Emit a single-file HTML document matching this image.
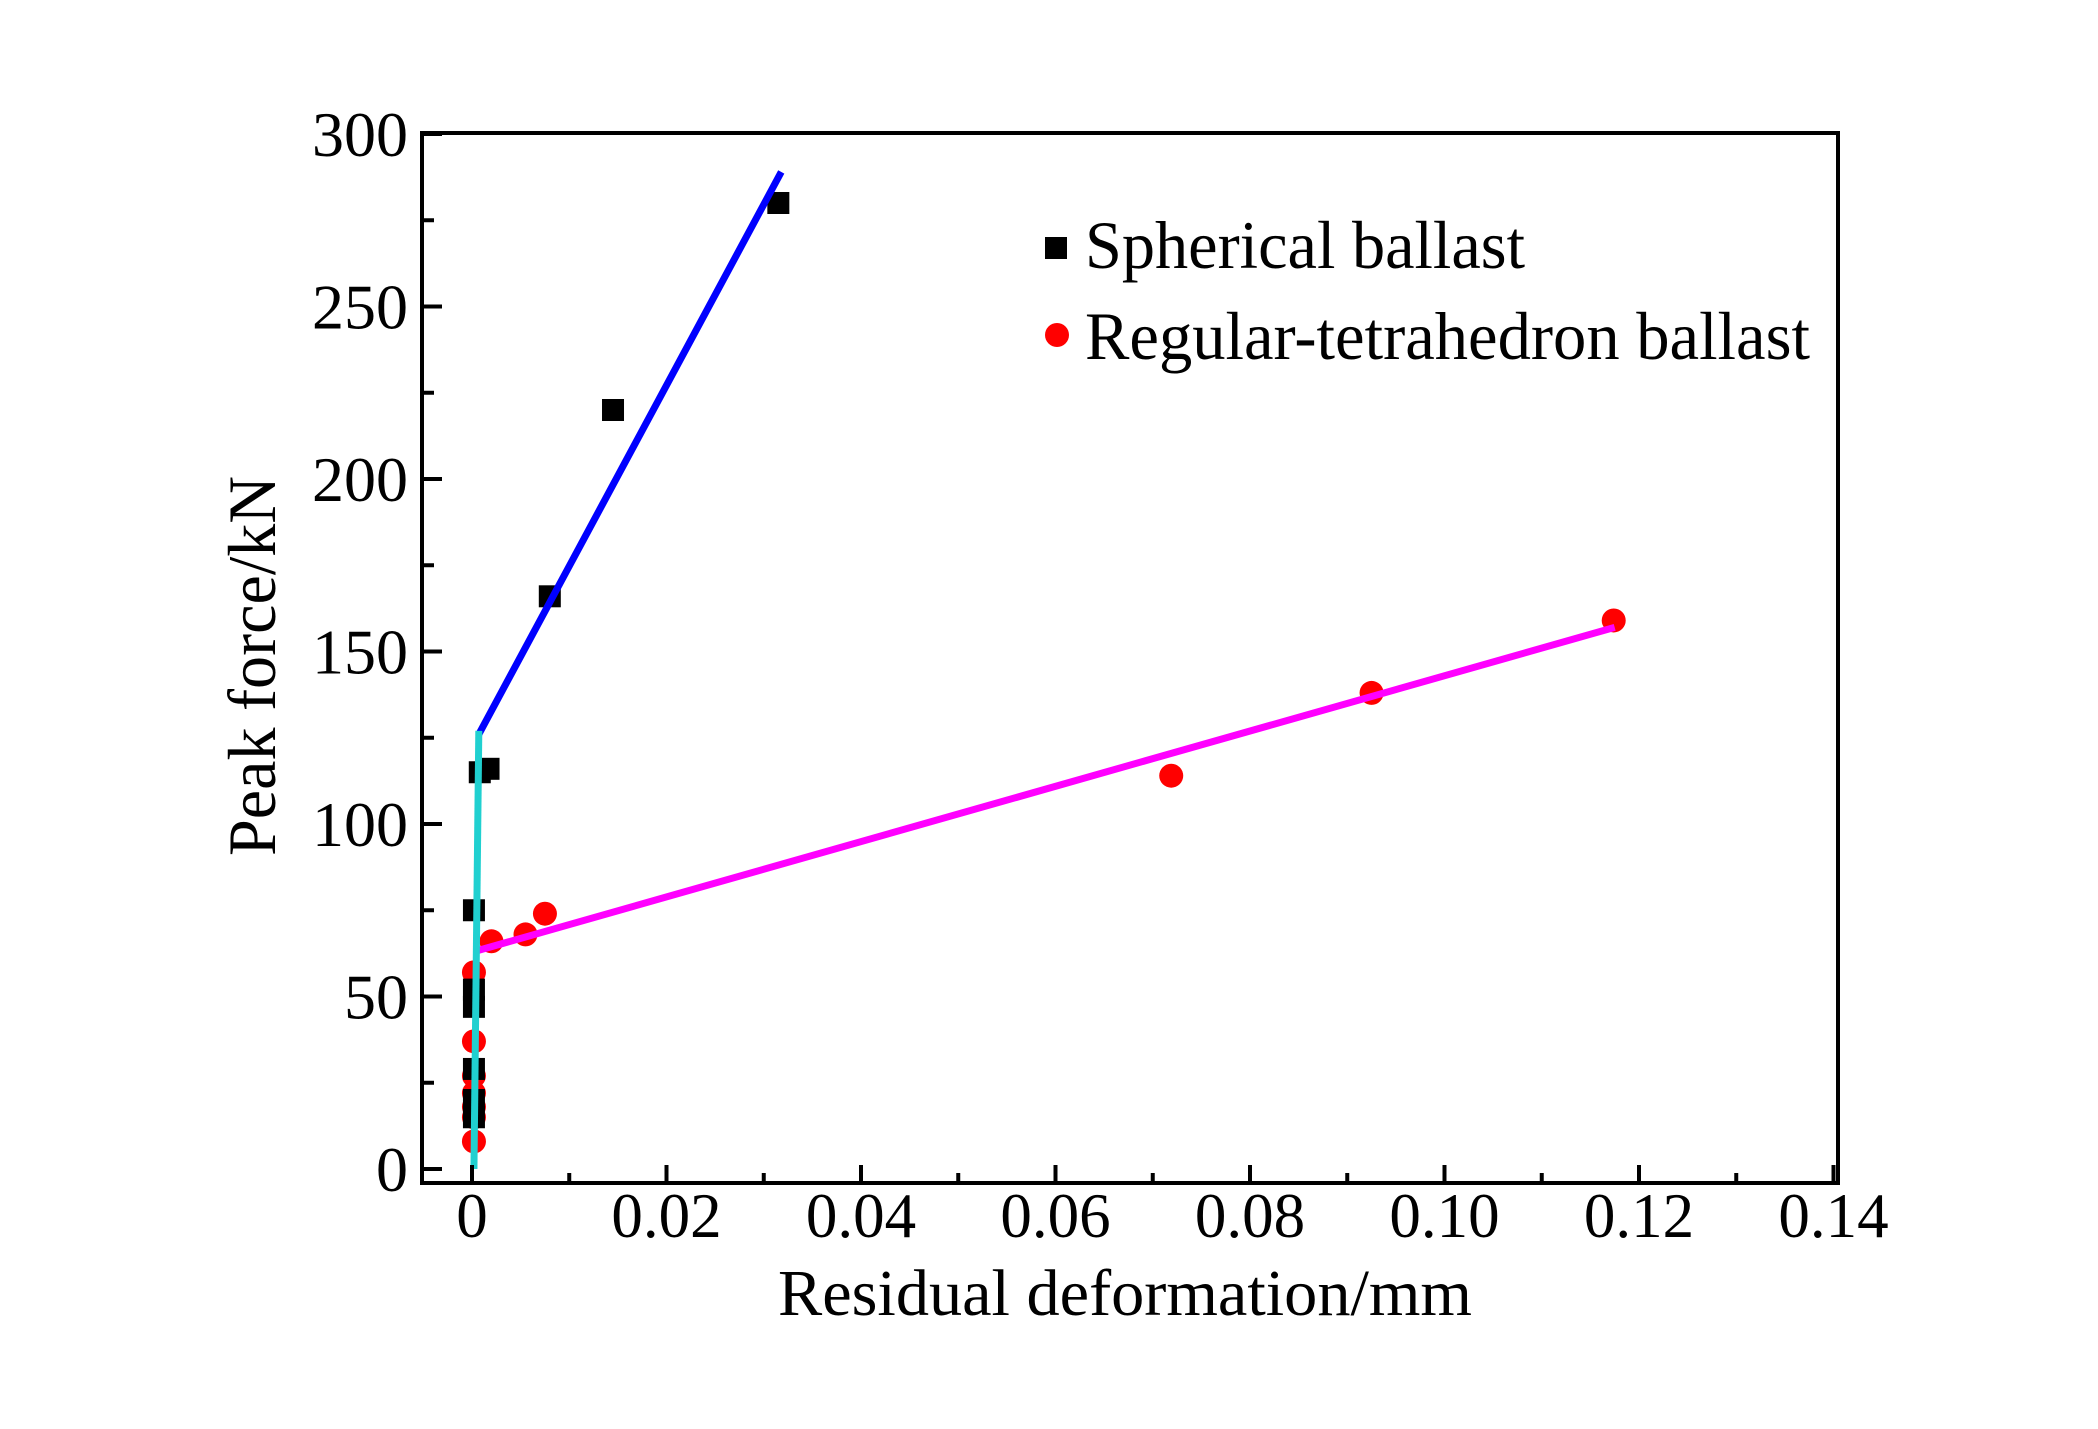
<!DOCTYPE html>
<html><head><meta charset="utf-8"><style>
html,body{margin:0;padding:0;background:#fff;}
svg{display:block;}
text{font-family:"Liberation Serif",serif;fill:#000;}
</style></head><body>
<svg id="chart" width="2098" height="1429" viewBox="0 0 2098 1429" xmlns="http://www.w3.org/2000/svg">
<rect x="0" y="0" width="2098" height="1429" fill="#fff"/>
<g id="marks"></g>
<rect x="422" y="133" width="1416" height="1050" fill="none" stroke="#000" stroke-width="4"/>
<g id="axes"></g>
<text x="778" y="1315" font-size="66" textLength="694" lengthAdjust="spacingAndGlyphs">Residual deformation/mm</text>
<text transform="translate(275,856) rotate(-90)" font-size="68" textLength="380" lengthAdjust="spacingAndGlyphs">Peak force/kN</text>
<g>
<rect x="1045" y="237" width="22" height="22" fill="#000"/>
<text x="1085" y="268" font-size="68" textLength="440" lengthAdjust="spacingAndGlyphs">Spherical ballast</text>
<ellipse cx="1057" cy="335" rx="12" ry="12" fill="#f00"/>
<text x="1085" y="359" font-size="68" textLength="725" lengthAdjust="spacingAndGlyphs">Regular-tetrahedron ballast</text>
</g>
</svg>
<script>
const sphX = [0.0315, 0.0145, 0.0080, 0.0008, 0.0017, 0.0002, 0.0002, 0.0002, 0.0002, 0.0002, 0.0002];
const sphY = [280, 220, 166, 115, 116, 75, 52, 47, 29, 20, 15];
const tetX = [0.1174, 0.0925, 0.0719, 0.0075, 0.0055, 0.0020, 0.0002, 0.0002, 0.0002, 0.0002, 0.0002, 0.0002, 0.0002];
const tetY = [159, 138, 114, 74, 68, 66, 57, 37, 27, 22, 18, 15, 8];
const blueX = [0.0007, 0.0318];
const blueY = [126, 289];
const magX = [0.0002, 0.1175];
const magY = [63, 157];
const cyanX = [0.0002, 0.0007];
const cyanY = [0, 127];
const xTicks = [0, 0.02, 0.04, 0.06, 0.08, 0.10, 0.12, 0.14];
const xTickLabels = ["0", "0.02", "0.04", "0.06", "0.08", "0.10", "0.12", "0.14"];
const yTicks = [0, 50, 100, 150, 200, 250, 300];
const yTickLabels = ["0", "50", "100", "150", "200", "250", "300"];

const NS = "http://www.w3.org/2000/svg";
function sx(v){ return 472 + v * 9725; }
function sy(v){ return 1169 - v * 3.45; }
const marks = document.getElementById('marks');
const axes = document.getElementById('axes');
function mk(tag, attrs, parent){ const e = document.createElementNS(NS, tag); for (const k in attrs) e.setAttribute(k, attrs[k]); parent.appendChild(e); return e; }

for (let i = 0; i < tetX.length; i++) {
  const c = mk('circle', {cx: sx(tetX[i]), cy: sy(tetY[i]), r: 12, fill: '#f00'}, marks);
  
  
}
for (let i = 0; i < sphX.length; i++) {
  const r = mk('rect', {x: sx(sphX[i]) - 11, y: sy(sphY[i]) - 11, width: 22, height: 22, fill: '#000'}, marks);
  
  
}
function line(xs, ys, color, name){
  const l = mk('line', {x1: sx(xs[0]), y1: sy(ys[0]), x2: sx(xs[1]), y2: sy(ys[1]), stroke: color, 'stroke-width': 7}, marks);
  
  
}
line(blueX, blueY, '#0000ff', 'spherical-fit-line');
line(magX, magY, '#ff00ff', 'tetrahedron-fit-line');
line(cyanX, cyanY, '#20d0d0', 'initial-fit-line');

for (let i = 0; i < xTicks.length; i++) {
  const x = sx(xTicks[i]);
  if (x < 1836) {
    const t = mk('line', {x1: x, y1: 1183, x2: x, y2: 1165, stroke: '#000', 'stroke-width': 4}, axes);
    
    
  }
  if (i < xTicks.length - 1) {
    const xm = sx(xTicks[i] + 0.01);
    const m = mk('line', {x1: xm, y1: 1183, x2: xm, y2: 1173, stroke: '#000', 'stroke-width': 4}, axes);
    
    
  }
  const lab = mk('text', {x: x, y: 1237, 'font-size': 63, 'text-anchor': 'middle'}, axes);
  lab.textContent = xTickLabels[i];
  
  
}
for (let i = 0; i < yTicks.length; i++) {
  const y = sy(yTicks[i]);
  const t = mk('line', {x1: 422, y1: y, x2: 442, y2: y, stroke: '#000', 'stroke-width': 4}, axes);
  
  
  if (i < yTicks.length - 1) {
    const ym = sy(yTicks[i] + 25);
    const m = mk('line', {x1: 422, y1: ym, x2: 434, y2: ym, stroke: '#000', 'stroke-width': 4}, axes);
    
    
  }
  const lab = mk('text', {x: 408, y: y + 22, 'font-size': 64, 'text-anchor': 'end'}, axes);
  lab.textContent = yTickLabels[i];
  
  
}
</script>
</body></html>
